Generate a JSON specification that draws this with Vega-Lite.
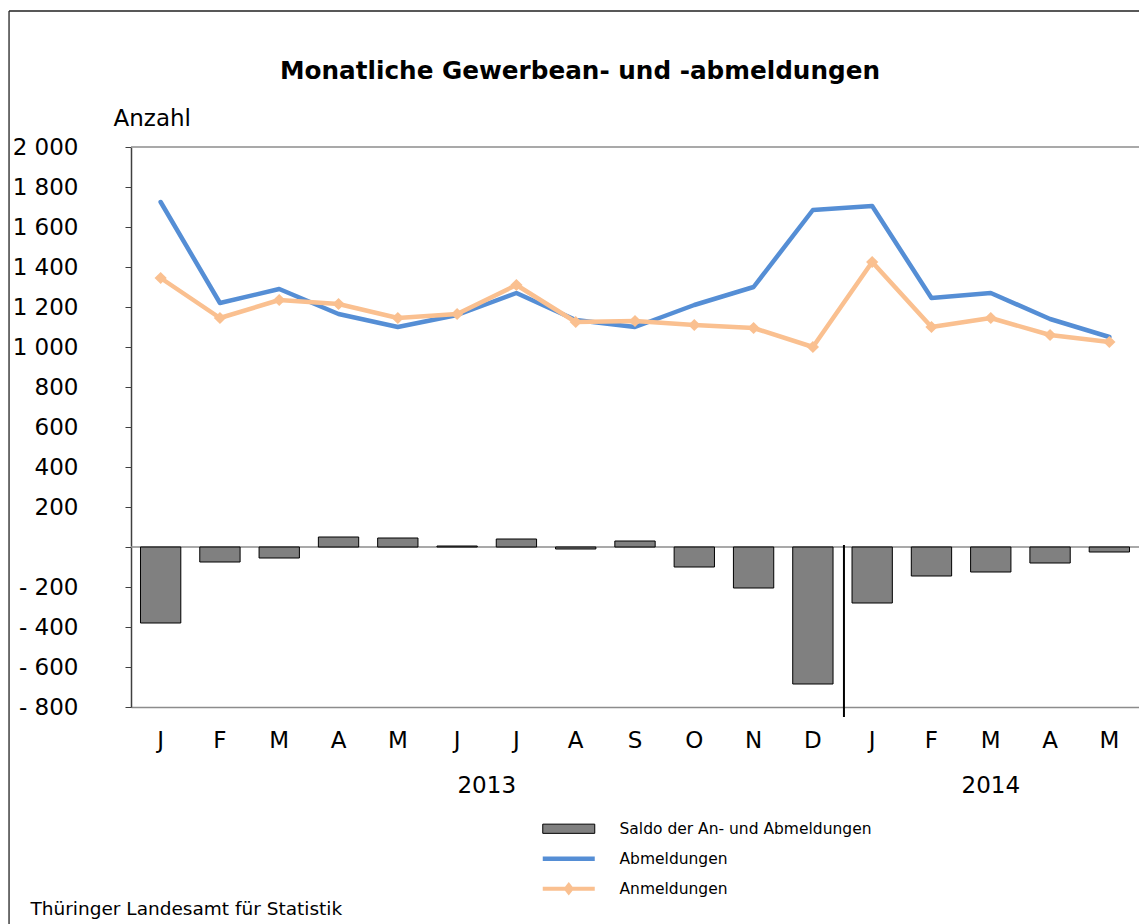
{
  "$schema": "https://vega.github.io/schema/vega-lite/v6.json",
  "width": 1008,
  "height": 560,
  "autosize": {"type": "none"},
  "padding": {"left": 131, "top": 147, "right": 0, "bottom": 217},
  "background": "white",
  "config": {"view": {"stroke": null}, "font": "DejaVu Sans"},
  "title": {
    "text": "Monatliche Gewerbean- und -abmeldungen",
    "font": "DejaVu Sans",
    "fontSize": 24.7,
    "fontWeight": "bold",
    "color": "black",
    "anchor": "middle",
    "frame": "group",
    "dx": -55,
    "offset": -93,
    "baseline": "alphabetic"
  },
  "datasets": {
    "saldo": [
      {"key": "J|01|2013", "series": "Saldo der An- und Abmeldungen", "wert": -380},
      {"key": "F|02|2013", "series": "Saldo der An- und Abmeldungen", "wert": -75},
      {"key": "M|03|2013", "series": "Saldo der An- und Abmeldungen", "wert": -55},
      {"key": "A|04|2013", "series": "Saldo der An- und Abmeldungen", "wert": 50},
      {"key": "M|05|2013", "series": "Saldo der An- und Abmeldungen", "wert": 45},
      {"key": "J|06|2013", "series": "Saldo der An- und Abmeldungen", "wert": 5},
      {"key": "J|07|2013", "series": "Saldo der An- und Abmeldungen", "wert": 40},
      {"key": "A|08|2013", "series": "Saldo der An- und Abmeldungen", "wert": -10},
      {"key": "S|09|2013", "series": "Saldo der An- und Abmeldungen", "wert": 30},
      {"key": "O|10|2013", "series": "Saldo der An- und Abmeldungen", "wert": -100},
      {"key": "N|11|2013", "series": "Saldo der An- und Abmeldungen", "wert": -205},
      {"key": "D|12|2013", "series": "Saldo der An- und Abmeldungen", "wert": -685},
      {"key": "J|01|2014", "series": "Saldo der An- und Abmeldungen", "wert": -280},
      {"key": "F|02|2014", "series": "Saldo der An- und Abmeldungen", "wert": -145},
      {"key": "M|03|2014", "series": "Saldo der An- und Abmeldungen", "wert": -125},
      {"key": "A|04|2014", "series": "Saldo der An- und Abmeldungen", "wert": -80},
      {"key": "M|05|2014", "series": "Saldo der An- und Abmeldungen", "wert": -25}
    ],
    "reihen": [
      {"key": "J|01|2013", "series": "Abmeldungen", "wert": 1725},
      {"key": "F|02|2013", "series": "Abmeldungen", "wert": 1220},
      {"key": "M|03|2013", "series": "Abmeldungen", "wert": 1290},
      {"key": "A|04|2013", "series": "Abmeldungen", "wert": 1165},
      {"key": "M|05|2013", "series": "Abmeldungen", "wert": 1100},
      {"key": "J|06|2013", "series": "Abmeldungen", "wert": 1160},
      {"key": "J|07|2013", "series": "Abmeldungen", "wert": 1270},
      {"key": "A|08|2013", "series": "Abmeldungen", "wert": 1135},
      {"key": "S|09|2013", "series": "Abmeldungen", "wert": 1100},
      {"key": "O|10|2013", "series": "Abmeldungen", "wert": 1210},
      {"key": "N|11|2013", "series": "Abmeldungen", "wert": 1300},
      {"key": "D|12|2013", "series": "Abmeldungen", "wert": 1685},
      {"key": "J|01|2014", "series": "Abmeldungen", "wert": 1705},
      {"key": "F|02|2014", "series": "Abmeldungen", "wert": 1245},
      {"key": "M|03|2014", "series": "Abmeldungen", "wert": 1270},
      {"key": "A|04|2014", "series": "Abmeldungen", "wert": 1140},
      {"key": "M|05|2014", "series": "Abmeldungen", "wert": 1050},
      {"key": "J|01|2013", "series": "Anmeldungen", "wert": 1345},
      {"key": "F|02|2013", "series": "Anmeldungen", "wert": 1145},
      {"key": "M|03|2013", "series": "Anmeldungen", "wert": 1235},
      {"key": "A|04|2013", "series": "Anmeldungen", "wert": 1215},
      {"key": "M|05|2013", "series": "Anmeldungen", "wert": 1145},
      {"key": "J|06|2013", "series": "Anmeldungen", "wert": 1165},
      {"key": "J|07|2013", "series": "Anmeldungen", "wert": 1310},
      {"key": "A|08|2013", "series": "Anmeldungen", "wert": 1125},
      {"key": "S|09|2013", "series": "Anmeldungen", "wert": 1130},
      {"key": "O|10|2013", "series": "Anmeldungen", "wert": 1110},
      {"key": "N|11|2013", "series": "Anmeldungen", "wert": 1095},
      {"key": "D|12|2013", "series": "Anmeldungen", "wert": 1000},
      {"key": "J|01|2014", "series": "Anmeldungen", "wert": 1425},
      {"key": "F|02|2014", "series": "Anmeldungen", "wert": 1100},
      {"key": "M|03|2014", "series": "Anmeldungen", "wert": 1145},
      {"key": "A|04|2014", "series": "Anmeldungen", "wert": 1060},
      {"key": "M|05|2014", "series": "Anmeldungen", "wert": 1025}
    ],
    "linien": [{"wert": 2000}, {"wert": 0}],
    "rahmen": [{"von": "J|01|2013", "bis": "M|05|2014"}],
    "trenner": [{"key": "J|01|2014"}],
    "jahr2013": [{"key": "J|06|2013", "jahr": "2013"}],
    "jahr2014": [{"key": "M|03|2014", "jahr": "2014"}]
  },
  "layer": [
    {
      "data": {"name": "linien"},
      "mark": {"type": "rule", "color": "#8c8c8c", "strokeWidth": 1.5},
      "encoding": {
        "y": {"field": "wert", "type": "quantitative", "title": "Anzahl"}
      }
    },
    {
      "data": {"name": "rahmen"},
      "mark": {"type": "rule", "color": "#404040", "strokeWidth": 1.5},
      "encoding": {
        "x": {"field": "von", "type": "nominal", "bandPosition": -3.26},
        "y": {"datum": 2680, "type": "quantitative"},
        "y2": {"datum": -1950}
      }
    },
    {
      "data": {"name": "rahmen"},
      "mark": {"type": "rule", "color": "#202020", "strokeWidth": 1.5},
      "encoding": {
        "x": {"field": "von", "type": "nominal", "bandPosition": -3.26},
        "x2": {"field": "bis", "bandPosition": 2},
        "y": {"datum": 2680, "type": "quantitative"}
      }
    },
    {
      "data": {"name": "saldo"},
      "mark": {"type": "bar", "stroke": "black", "strokeWidth": 1},
      "encoding": {
        "x": {
          "field": "key",
          "type": "nominal",
          "sort": null,
          "scale": {
            "domain": ["J|01|2013","F|02|2013","M|03|2013","A|04|2013","M|05|2013","J|06|2013","J|07|2013","A|08|2013","S|09|2013","O|10|2013","N|11|2013","D|12|2013","J|01|2014","F|02|2014","M|03|2014","A|04|2014","M|05|2014"],
            "paddingInner": 0.32,
            "paddingOuter": 0.16
          },
          "axis": {
            "labelExpr": "split(datum.value, '|')[0]",
            "labelAngle": 0,
            "labelAlign": "center",
            "labelFont": "DejaVu Sans",
            "labelFontSize": 23,
            "labelColor": "black",
            "labelPadding": 33,
            "labelBaseline": "middle",
            "labelOverlap": false,
            "ticks": false,
            "domainColor": "#8c8c8c",
            "domainWidth": 1.5,
            "title": "Thüringer Landesamt für Statistik",
            "titleFont": "DejaVu Sans",
            "titleFontSize": 18.5,
            "titleFontWeight": "normal",
            "titleColor": "black",
            "titleX": -101,
            "titleY": 207,
            "titleAlign": "left",
            "titleBaseline": "alphabetic"
          }
        },
        "y": {
          "field": "wert",
          "type": "quantitative",
          "scale": {"domain": [-800, 2000], "nice": false, "zero": false},
          "axis": {
            "values": [-800, -600, -400, -200, 0, 200, 400, 600, 800, 1000, 1200, 1400, 1600, 1800, 2000],
            "tickCount": 30,
            "labelExpr": "datum.value == 0 ? '' : (datum.value < 0 ? '- ' : '') + replace(format(abs(datum.value), ','), ',', ' ')",
            "labelOverlap": false,
            "labelFlush": false,
            "grid": false,
            "domainColor": "#404040",
            "domainWidth": 1.5,
            "tickColor": "#404040",
            "tickSize": 6,
            "labelFont": "DejaVu Sans",
            "labelFontSize": 23,
            "labelColor": "black",
            "labelPadding": 47,
            "title": "Anzahl",
            "titleFont": "DejaVu Sans",
            "titleFontSize": 23,
            "titleFontWeight": "normal",
            "titleColor": "black",
            "titleAngle": 0,
            "titleX": -18,
            "titleY": -29,
            "titleAlign": "left",
            "titleBaseline": "middle"
          }
        },
        "fill": {
          "field": "series",
          "type": "nominal",
          "scale": {"domain": ["Saldo der An- und Abmeldungen"], "range": ["#808080"]},
          "legend": {
            "orient": "none",
            "legendX": 430,
            "legendY": 674,
            "title": null,
            "padding": 0,
            "labelFont": "DejaVu Sans",
            "labelFontSize": 15.5,
            "labelColor": "black",
            "labelLimit": 0,
            "symbolSize": 100,
            "labelOffset": 43,
            "symbolType": "M-5.2,-0.92H5.2V0.92H-5.2Z",
            "symbolStrokeColor": "black",
            "symbolStrokeWidth": 1,
            "symbolOpacity": 1
          }
        }
      }
    },
    {
      "data": {"name": "trenner"},
      "mark": {"type": "rule", "color": "black", "strokeWidth": 2},
      "encoding": {
        "x": {"field": "key", "type": "nominal", "bandPosition": -0.2},
        "y": {"datum": 10, "type": "quantitative"},
        "y2": {"datum": -850}
      }
    },
    {
      "data": {"name": "reihen"},
      "transform": [{"filter": "datum.series === 'Abmeldungen'"}],
      "mark": {"type": "line", "strokeWidth": 4.5, "strokeJoin": "round", "strokeCap": "round"},
      "encoding": {
        "x": {"field": "key", "type": "nominal", "sort": null},
        "y": {"field": "wert", "type": "quantitative"},
        "stroke": {
          "field": "series",
          "type": "nominal",
          "scale": {"domain": ["Abmeldungen"], "range": ["#558ED5"]},
          "legend": {
            "orient": "none",
            "legendX": 430,
            "legendY": 704,
            "title": null,
            "padding": 0,
            "labelFont": "DejaVu Sans",
            "labelFontSize": 15.5,
            "labelColor": "black",
            "labelLimit": 0,
            "symbolSize": 100,
            "labelOffset": 43,
            "symbolType": "M-5.2,0H5.2",
            "symbolStrokeWidth": 4.5,
            "symbolOpacity": 1
          }
        }
      }
    },
    {
      "data": {"name": "reihen"},
      "transform": [{"filter": "datum.series === 'Anmeldungen'"}],
      "mark": {"type": "line", "strokeWidth": 4.5, "strokeJoin": "round", "strokeCap": "round"},
      "encoding": {
        "x": {"field": "key", "type": "nominal", "sort": null},
        "y": {"field": "wert", "type": "quantitative"},
        "color": {
          "field": "series",
          "type": "nominal",
          "scale": {"domain": ["Anmeldungen"], "range": ["#FAC090"]},
          "legend": {
            "orient": "none",
            "legendX": 430,
            "legendY": 734,
            "title": null,
            "padding": 0,
            "labelFont": "DejaVu Sans",
            "labelFontSize": 15.5,
            "labelColor": "black",
            "labelLimit": 0,
            "symbolSize": 100,
            "labelOffset": 43,
            "symbolType": "M-5.2,0H5.2M0,-0.7L0.55,0L0,0.7L-0.55,0Z",
            "symbolStrokeWidth": 4,
            "symbolFillColor": "#FAC090",
            "symbolStrokeColor": "#FAC090",
            "symbolOpacity": 1
          }
        }
      }
    },
    {
      "data": {"name": "reihen"},
      "transform": [{"filter": "datum.series === 'Anmeldungen'"}],
      "mark": {"type": "point", "shape": "diamond", "filled": true, "size": 150, "opacity": 1},
      "encoding": {
        "x": {"field": "key", "type": "nominal", "sort": null},
        "y": {"field": "wert", "type": "quantitative"},
        "color": {"field": "series", "type": "nominal"}
      }
    },
    {
      "data": {"name": "jahr2013"},
      "mark": {"type": "text", "font": "DejaVu Sans", "fontSize": 23, "color": "black", "baseline": "middle", "align": "center"},
      "encoding": {
        "x": {"field": "key", "type": "nominal", "bandPosition": 1.235},
        "y": {"datum": -1195, "type": "quantitative"},
        "text": {"field": "jahr"}
      }
    },
    {
      "data": {"name": "jahr2014"},
      "mark": {"type": "text", "font": "DejaVu Sans", "fontSize": 23, "color": "black", "baseline": "middle", "align": "center"},
      "encoding": {
        "x": {"field": "key", "type": "nominal", "bandPosition": 0.5},
        "y": {"datum": -1195, "type": "quantitative"},
        "text": {"field": "jahr"}
      }
    }
  ]
}
